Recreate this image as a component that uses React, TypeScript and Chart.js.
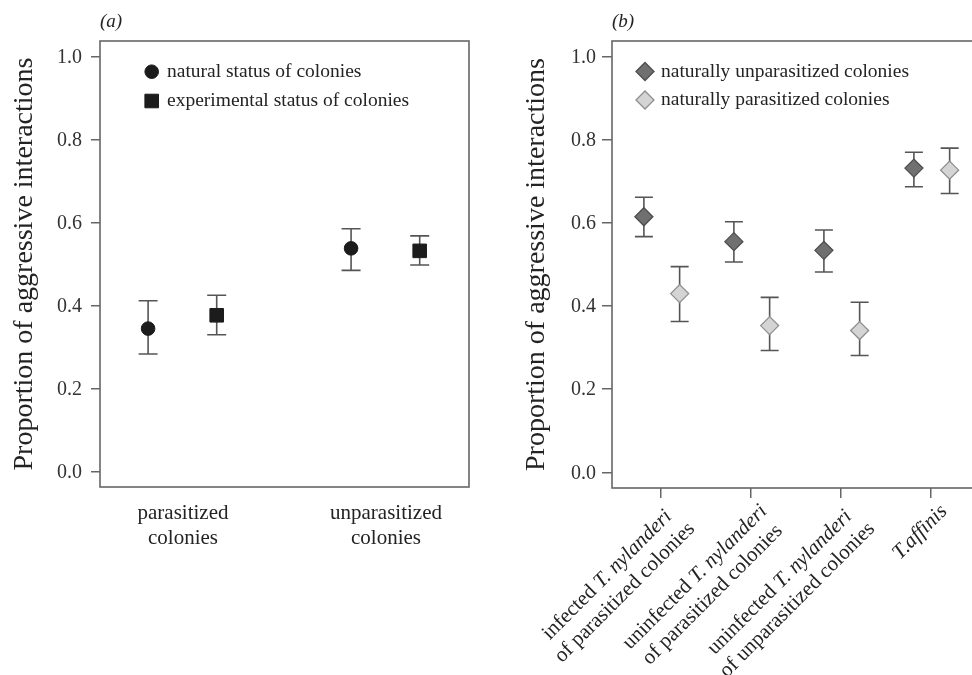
import React, { useEffect, useRef } from 'react';
import { Chart, registerables } from 'chart.js';

Chart.register(...registerables);

const SERIF = '"Liberation Serif", "Times New Roman", serif';
const INK = '#232323';
const AXIS = '#666666';
const BAR = '#555555';

// Shared y-axis ticks
const yTickValues = [0, 0.2, 0.4, 0.6, 0.8, 1.0];
const yTitle = 'Proportion of aggressive interactions';

// Panel (a): colony status
const statusCategories: string[][] = [
  ['parasitized', 'colonies'],
  ['unparasitized', 'colonies'],
];
const naturalMean = [0.345, 0.538];
const naturalLow = [0.284, 0.485];
const naturalHigh = [0.412, 0.585];
const experimentalMean = [0.377, 0.532];
const experimentalLow = [0.33, 0.498];
const experimentalHigh = [0.425, 0.568];

// Panel (b): ant groups (segments: text, italic)
type Seg = [string, boolean];
const antCategories: Seg[][][] = [
  [[['infected ', false], ['T. nylanderi', true]], [['of parasitized colonies', false]]],
  [[['uninfected ', false], ['T. nylanderi', true]], [['of parasitized colonies', false]]],
  [[['uninfected ', false], ['T. nylanderi', true]], [['of unparasitized colonies', false]]],
  [[['T.affinis', true]]],
];
const unparasitizedMean = [0.615, 0.555, 0.534, 0.732];
const unparasitizedLow = [0.567, 0.506, 0.482, 0.687];
const unparasitizedHigh = [0.662, 0.603, 0.583, 0.77];
const parasitizedMean = [0.43, 0.353, 0.341, 0.727];
const parasitizedLow = [0.363, 0.293, 0.281, 0.671];
const parasitizedHigh = [0.495, 0.421, 0.409, 0.78];

type Bounds = { low: number[]; high: number[] };

function drawMarker(ctx: CanvasRenderingContext2D, style: string, x: number, y: number, r: number, fill: string, stroke: string, lw: number) {
  ctx.save();
  ctx.beginPath();
  if (style === 'circle') {
    ctx.arc(x, y, r, 0, Math.PI * 2);
  } else if (style === 'rect') {
    const h = r * Math.SQRT1_2;
    ctx.rect(x - h, y - h, 2 * h, 2 * h);
  } else {
    ctx.moveTo(x - r, y);
    ctx.lineTo(x, y - r);
    ctx.lineTo(x + r, y);
    ctx.lineTo(x, y + r);
    ctx.closePath();
  }
  ctx.fillStyle = fill;
  ctx.fill();
  ctx.lineWidth = lw;
  ctx.strokeStyle = stroke;
  ctx.stroke();
  ctx.restore();
}

const framePlugin = {
  id: 'frame',
  beforeDatasetsDraw(chart: any) {
    const { ctx, chartArea: a } = chart;
    ctx.save();
    ctx.strokeStyle = AXIS;
    ctx.lineWidth = 1.6;
    ctx.strokeRect(a.left, a.top, a.right - a.left, a.bottom - a.top);
    ctx.restore();
  },
};

function errorBarPlugin(bounds: Bounds[], cap: number) {
  return {
    id: 'errorBars',
    beforeDatasetsDraw(chart: any) {
      const { ctx, scales } = chart;
      const xs = scales.x;
      const ys = scales.y;
      ctx.save();
      ctx.strokeStyle = BAR;
      ctx.lineWidth = 1.6;
      chart.data.datasets.forEach((ds: any, di: number) => {
        const b = bounds[di];
        ds.data.forEach((p: any, i: number) => {
          const px = xs.getPixelForValue(p.x);
          const y0 = ys.getPixelForValue(b.low[i]);
          const y1 = ys.getPixelForValue(b.high[i]);
          ctx.beginPath();
          ctx.moveTo(px, y0);
          ctx.lineTo(px, y1);
          ctx.moveTo(px - cap, y0);
          ctx.lineTo(px + cap, y0);
          ctx.moveTo(px - cap, y1);
          ctx.lineTo(px + cap, y1);
          ctx.stroke();
        });
      });
      ctx.restore();
    },
  };
}

function legendPlugin(markerDx: number, textDx: number, rows: number[], size: number) {
  return {
    id: 'inlineLegend',
    afterDraw(chart: any) {
      const { ctx, chartArea } = chart;
      chart.data.datasets.forEach((ds: any, i: number) => {
        const y = rows[i];
        drawMarker(ctx, ds.pointStyle, chartArea.left + markerDx, y, ds.pointRadius, ds.backgroundColor, ds.borderColor, ds.borderWidth);
        ctx.save();
        ctx.fillStyle = INK;
        ctx.font = `${size}px ${SERIF}`;
        ctx.textAlign = 'left';
        ctx.textBaseline = 'middle';
        ctx.fillText(ds.label, chartArea.left + textDx, y);
        ctx.restore();
      });
    },
  };
}

function panelTag(tag: string) {
  return {
    id: 'panelTag',
    afterDraw(chart: any) {
      const { ctx, chartArea } = chart;
      ctx.save();
      ctx.fillStyle = INK;
      ctx.font = `italic 19px ${SERIF}`;
      ctx.textAlign = 'left';
      ctx.textBaseline = 'alphabetic';
      ctx.fillText(tag, chartArea.left, 27);
      ctx.restore();
    },
  };
}

// Slanted, centred two-line category labels with italic species names
const slantedLabels = {
  id: 'slantedLabels',
  afterDraw(chart: any) {
    const { ctx, chartArea, scales } = chart;
    const xs = scales.x;
    const size = 21;
    const fontOf = (it: boolean) => `${it ? 'italic ' : ''}${size}px ${SERIF}`;
    ctx.save();
    ctx.fillStyle = INK;
    ctx.textBaseline = 'middle';
    ctx.textAlign = 'left';
    antCategories.forEach((lines, i) => {
      const px = xs.getPixelForValue(i + 1);
      const widths = lines.map((line) =>
        line.reduce((w, [t, it]) => {
          ctx.font = fontOf(it);
          return w + ctx.measureText(t).width;
        }, 0)
      );
      const maxW = Math.max(...widths);
      ctx.save();
      ctx.translate(px, chartArea.bottom + 10);
      ctx.rotate(-Math.PI / 4);
      lines.forEach((line, li) => {
        let cx = -maxW / 2 + 2 - widths[li] / 2;
        const cy = 16.5 + 24.8 * li;
        line.forEach(([t, it]) => {
          ctx.font = fontOf(it);
          ctx.fillText(t, cx, cy);
          cx += ctx.measureText(t).width;
        });
      });
      ctx.restore();
    });
    ctx.restore();
  },
};

function yScale(min: number, max: number, tickLength: number, padding: number) {
  return {
    type: 'linear',
    min,
    max,
    afterBuildTicks: (s: any) => {
      s.ticks = yTickValues.map((v) => ({ value: v }));
    },
    afterFit: (s: any) => {
      s.width = 100;
    },
    grid: { drawOnChartArea: false, drawTicks: true, tickLength, color: AXIS, lineWidth: 1.5 },
    border: { display: false },
    ticks: {
      padding,
      labelOffset: 1,
      color: '#333333',
      font: { family: SERIF, size: 20 },
      callback: (v: any) => Number(v).toFixed(1),
    },
    title: {
      display: true,
      text: yTitle,
      color: INK,
      font: { family: SERIF, size: 28, lineHeight: 1.2 },
      padding: { top: 7.7, bottom: 0 },
    },
  };
}

function configA(): any {
  const offN = -0.172;
  const offE = 0.166;
  return {
    type: 'scatter',
    data: {
      datasets: [
        {
          label: 'natural status of colonies',
          data: naturalMean.map((v, i) => ({ x: i + 1 + offN, y: v })),
          pointStyle: 'circle',
          pointRadius: 6.8,
          backgroundColor: '#1c1c1c',
          borderColor: '#1c1c1c',
          borderWidth: 1,
        },
        {
          label: 'experimental status of colonies',
          data: experimentalMean.map((v, i) => ({ x: i + 1 + offE, y: v })),
          pointStyle: 'rect',
          pointRadius: 9.6,
          backgroundColor: '#1c1c1c',
          borderColor: '#1c1c1c',
          borderWidth: 1,
        },
      ],
    },
    options: {
      responsive: false,
      animation: false,
      events: [],
      layout: { padding: { left: 0, right: 21, top: 41, bottom: 0 } },
      plugins: { legend: { display: false }, tooltip: { enabled: false } },
      scales: {
        x: {
          type: 'linear',
          min: 0.5911,
          max: 2.4089,
          afterBuildTicks: (s: any) => {
            s.ticks = statusCategories.map((_, i) => ({ value: i + 1 }));
          },
          afterFit: (s: any) => {
            s.height = 188;
          },
          grid: { display: false, drawTicks: false },
          border: { display: false },
          ticks: {
            autoSkip: false,
            minRotation: 0,
            maxRotation: 0,
            padding: 14,
            color: INK,
            font: { family: SERIF, size: 21, lineHeight: 1.2 },
            callback: (v: any) => statusCategories[Math.round(v) - 1],
          },
        },
        y: yScale(-0.0361, 1.0368, 9, 9),
      },
    },
    plugins: [
      framePlugin,
      errorBarPlugin(
        [
          { low: naturalLow, high: naturalHigh },
          { low: experimentalLow, high: experimentalHigh },
        ],
        9.5
      ),
      legendPlugin(51.7, 67, [71.7, 101], 19.5),
      panelTag('(a)'),
    ],
  };
}

function configB(): any {
  const offU = -0.19;
  const offP = 0.207;
  return {
    type: 'scatter',
    data: {
      datasets: [
        {
          label: 'naturally unparasitized colonies',
          data: unparasitizedMean.map((v, i) => ({ x: i + 1 + offU, y: v })),
          pointStyle: 'rectRot',
          pointRadius: 9,
          backgroundColor: '#707070',
          borderColor: '#4e4e4e',
          borderWidth: 1.3,
        },
        {
          label: 'naturally parasitized colonies',
          data: parasitizedMean.map((v, i) => ({ x: i + 1 + offP, y: v })),
          pointStyle: 'rectRot',
          pointRadius: 9,
          backgroundColor: '#d4d4d4',
          borderColor: '#8e8e8e',
          borderWidth: 1.3,
        },
      ],
    },
    options: {
      responsive: false,
      animation: false,
      events: [],
      layout: { padding: { left: 0, right: 12, top: 41, bottom: 0 } },
      plugins: { legend: { display: false }, tooltip: { enabled: false } },
      scales: {
        x: {
          type: 'linear',
          min: 0.4556,
          max: 4.5444,
          afterBuildTicks: (s: any) => {
            s.ticks = antCategories.map((_, i) => ({ value: i + 1 }));
          },
          afterFit: (s: any) => {
            s.height = 187;
          },
          grid: { drawOnChartArea: false, drawTicks: true, tickLength: 10, color: AXIS, lineWidth: 1.5 },
          border: { display: false },
          ticks: { display: false },
        },
        y: yScale(-0.0378, 1.0378, 10, 6),
      },
    },
    plugins: [
      framePlugin,
      errorBarPlugin(
        [
          { low: unparasitizedLow, high: unparasitizedHigh },
          { low: parasitizedLow, high: parasitizedHigh },
        ],
        9
      ),
      legendPlugin(33, 49, [71.5, 100], 19.5),
      panelTag('(b)'),
      slantedLabels,
    ],
  };
}

function ChartPanel({ left, width, build }: { left: number; width: number; build: () => any }) {
  const ref = useRef<HTMLCanvasElement | null>(null);
  useEffect(() => {
    if (!ref.current) return;
    const chart = new Chart(ref.current, build());
    return () => chart.destroy();
  }, [build]);
  return (
    <canvas
      ref={ref}
      width={width}
      height={675}
      style={{ position: 'absolute', left, top: 0, width, height: 675 }}
    />
  );
}

export default function App() {
  return (
    <div
      style={{
        position: 'fixed',
        left: 0,
        top: 0,
        width: 972,
        height: 675,
        overflow: 'hidden',
        background: '#ffffff',
      }}
    >
      <ChartPanel left={0} width={490} build={configA} />
      <ChartPanel left={512} width={480} build={configB} />
    </div>
  );
}
